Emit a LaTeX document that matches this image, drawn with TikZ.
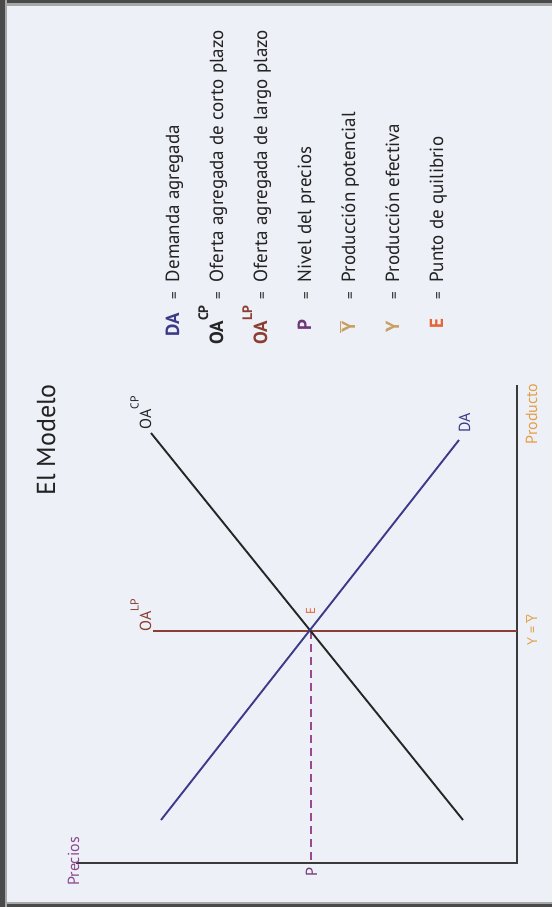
\documentclass[tikz,border=0pt]{standalone}
\usepackage{fontspec}
\usepackage{graphicx}
\setmainfont{PT Sans}
\definecolor{bg}{HTML}{EEF0F7}
\definecolor{frameD}{HTML}{4A4A4A}
\definecolor{frameL}{HTML}{A8A8A8}
\definecolor{cDA}{HTML}{3D3A8A}
\definecolor{cCP}{HTML}{262626}
\definecolor{cLP}{HTML}{8A3F32}
\definecolor{cP}{HTML}{6F3775}
\definecolor{cDash}{HTML}{9A4A8C}
\definecolor{cPrec}{HTML}{8A4A8E}
\definecolor{cYbar}{HTML}{C6A060}
\definecolor{cE}{HTML}{E2683A}
\definecolor{cProd}{HTML}{E3A048}
\definecolor{cAxis}{HTML}{3A3A3A}
\definecolor{cText}{HTML}{222222}
\newcommand\supx[1]{\raisebox{0.78em}{\scalebox{0.72}{#1}}}
\newcommand\Ybar{\ensuremath{\overline{\mbox{Y}}}}
\begin{document}
\begin{tikzpicture}[x=1pt,y=-1pt,
  rot/.style={rotate=90, inner sep=0pt, outer sep=0pt},
  leg/.style={rot, anchor=base west, text=cText, font=\fontsize{19}{22}\selectfont},
  legsym/.style={rot, anchor=base, font=\fontsize{19}{22}\selectfont\bfseries},
  legeq/.style={rot, anchor=base, text=cText, font=\fontsize{15}{18}\selectfont},
  chlbl/.style={rot, anchor=base, font=\fontsize{16}{18}\selectfont},
  curve/.style={line width=1.9pt},
  axis/.style={line width=2.5pt, draw=cAxis}]
\useasboundingbox (0,0) rectangle (552,907);
% background and frame
\fill[bg] (0,0) rectangle (552,907);
\fill[frameL] (0,0) rectangle (552,6);
\fill[frameD] (0,0) rectangle (552,2.7);
\fill[frameL] (0,901.5) rectangle (552,907);
\fill[frameD] (0,904) rectangle (552,907);
\fill[frameL] (0,0) rectangle (6.5,907);
\fill[frameD] (0,0) rectangle (5,907);

% title
\node[rot, anchor=base, text=cText, font=\fontsize{26}{30}\selectfont] (title) at (55,440) {El Modelo};

% coordinates
\coordinate (cpT) at (151,433);
\coordinate (cpB) at (463,820);
\coordinate (daT) at (459,440);
\coordinate (daB) at (161,820);
\coordinate (lpL) at (153,631);
\coordinate (lpR) at (517,631);
\coordinate (O) at (517,863);
\coordinate (pEnd) at (76,863);
\coordinate (qEnd) at (517,385);
\coordinate (E) at (310.6,631);
\coordinate (Pax) at (310.6,863);

% axes
\draw[axis] (pEnd) -- (O) -- (qEnd);
% curves
\draw[curve, draw=cLP] (lpL) -- (lpR);
\draw[curve, draw=cDash, dash pattern=on 8pt off 5pt] (E) -- (Pax);
\draw[curve, draw=cCP] (cpT) -- (cpB);
\draw[curve, draw=cDA] (daT) -- (daB);

% chart labels
\node[chlbl, text=cCP] (lblCP) at (151,413) {OA\supx{CP}};
\node[chlbl, text=cLP] (lblLP) at (151,615) {OA\supx{LP}};
\node[chlbl, text=cDA] (lblDA) at (470,423) {DA};
\node[chlbl, text=cE, font=\fontsize{13}{15}\selectfont] (lblE) at (315,611.5) {E};
\node[chlbl, text=cP] (lblP) at (317,872.5) {P};
\node[chlbl, text=cPrec] (lblPrec) at (79,861.5) {Precios};
\node[chlbl, text=cProd, font=\fontsize{14}{16}\selectfont] (lblY) at (537,630) {Y = \Ybar};
\node[chlbl, text=cProd] (lblProd) at (537,414) {Producto};

% legend
\node[legsym, text=cDA] (s1) at (179,325) {DA};
\node[legeq] (e1) at (179,296) {=};
\node[leg] (t1) at (179,282) {Demanda agregada};

\node[legsym, text=cCP] (s2) at (223,325) {OA\supx{CP}};
\node[legeq] (e2) at (223,296) {=};
\node[leg] (t2) at (223,282) {Oferta agregada de corto plazo};

\node[legsym, text=cLP] (s3) at (267,325) {OA\supx{LP}};
\node[legeq] (e3) at (267,296) {=};
\node[leg] (t3) at (267,282) {Oferta agregada de largo plazo};

\node[legsym, text=cP] (s4) at (311,325) {P};
\node[legeq] (e4) at (311,296) {=};
\node[leg] (t4) at (311,282) {Nivel del precios};

\node[legsym, text=cYbar] (s5) at (355,327) {\Ybar};
\node[legeq] (e5) at (355,296) {=};
\node[leg] (t5) at (355,282) {Producción potencial};

\node[legsym, text=cYbar] (s6) at (399,327) {Y};
\node[legeq] (e6) at (399,296) {=};
\node[leg] (t6) at (399,282) {Producción efectiva};

\node[legsym, text=cE] (s7) at (443,324) {E};
\node[legeq] (e7) at (443,296) {=};
\node[leg] (t7) at (443,282) {Punto de quilibrio};
\end{tikzpicture}
\end{document}
